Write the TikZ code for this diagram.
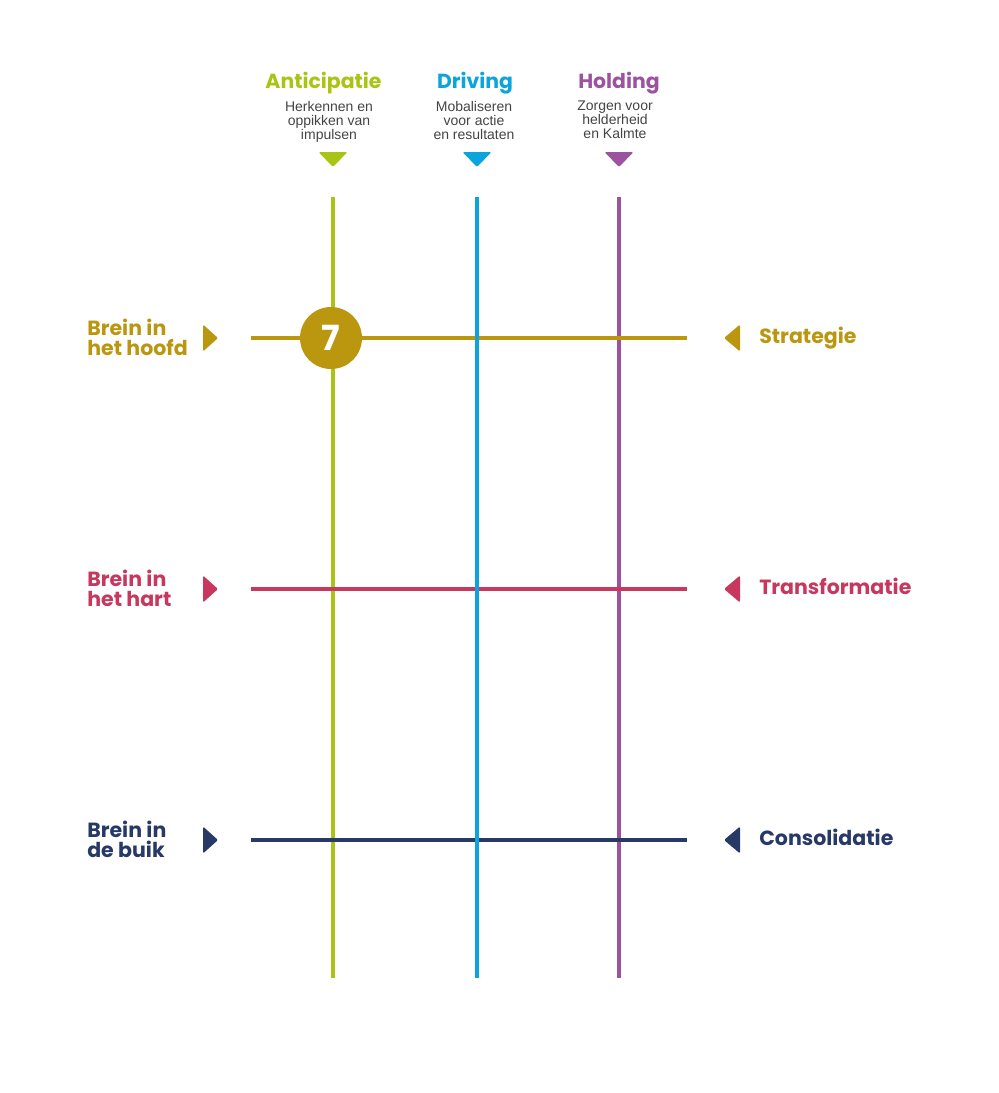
\documentclass[tikz,border=0pt]{standalone}
\usepackage{fontspec}
\setmainfont{Poppins}
\newfontfamily\subfont{Liberation Sans}
\usetikzlibrary{positioning}

\definecolor{antgreen}{HTML}{A9C414}
\definecolor{drvblue}{HTML}{0BA4DC}
\definecolor{hldpurple}{HTML}{9B53A0}
\definecolor{strgold}{HTML}{BB9710}
\definecolor{trfpink}{HTML}{C7375E}
\definecolor{cnsnavy}{HTML}{273A67}
\definecolor{subgray}{HTML}{444444}

\begin{document}
\begin{tikzpicture}[x=0.75pt, y=-0.75pt,
    head/.style = {font=\bfseries\fontsize{15.3}{16}\selectfont, anchor=base},
    sub/.style = {font=\subfont\fontsize{10.5}{10.5}\selectfont, text=subgray, align=center, anchor=north, inner sep=0pt},
    side/.style = {font=\bfseries\fontsize{15.4}{15}\selectfont, align=left, inner sep=0pt},
    bar/.style = {line width=3pt},
    tip/.style = {rounded corners=1pt}]
  \useasboundingbox (0,0) rectangle (999,1093);
  % Column headings
  \node[head, text=antgreen] (anthead) at (323.5,88) {Anticipatie};
  \node[head, text=drvblue] (drvhead) at (475,88) {Driving};
  \node[head, text=hldpurple] (hldhead) at (619,88) {Holding};
  \node[sub] (antsub) at (329,101) {Herkennen en\\oppikken van\\impulsen};
  \node[sub] (drvsub) at (474,101) {Mobaliseren\\voor actie\\en resultaten};
  \node[sub] (hldsub) at (615,101) {Zorgen voor\\helderheid\\en Kalmte};
  % Column markers and end points
  \foreach \cn/\cx/\cc in {ant/333/antgreen, drv/477/drvblue, hld/619/hldpurple} {
    \fill[\cc, tip] (\cx-14.5,152) -- (\cx+14.5,152) -- (\cx,167) -- cycle;
    \coordinate (\cn-top) at (\cx,197);
    \coordinate (\cn-bot) at (\cx,978);
  }
  % Row labels and markers
  \foreach \rn/\ry/\rc/\ltext/\rtext in {str/338/strgold/{Brein in\\het hoofd}/Strategie,
      trf/589/trfpink/{Brein in\\het hart}/Transformatie,
      cns/840/cnsnavy/{Brein in\\de buik}/Consolidatie} {
    \node[side, anchor=north west, text=\rc] (\rn-label-l) at (87,\ry-19.5) {\ltext};
    \node[side, anchor=base west, text=\rc] (\rn-label-r) at (759,\ry+5) {\rtext};
    \fill[\rc, tip] (203,\ry-13.5) -- (218,\ry) -- (203,\ry+13.5) -- cycle;
    \fill[\rc, tip] (740,\ry-13.5) -- (724,\ry) -- (740,\ry+13.5) -- cycle;
    \coordinate (\rn-west) at (251,\ry);
    \coordinate (\rn-east) at (687,\ry);
  }
  % Grid lines
  \draw[bar, antgreen] (ant-top) -- (ant-bot);
  \draw[bar, hldpurple] (hld-top) -- (hld-bot);
  \draw[bar, strgold] (str-west) -- (str-east);
  \draw[bar, trfpink] (trf-west) -- (trf-east);
  \draw[bar, cnsnavy] (cns-west) -- (cns-east);
  \draw[bar, drvblue] (drv-top) -- (drv-bot);
  % Badge
  \node[circle, fill=strgold, minimum size=46.5pt, inner sep=0pt, text=white,
    font=\bfseries\fontsize{26}{26}\selectfont] (seven) at (331,338) {7};
\end{tikzpicture}
\end{document}
